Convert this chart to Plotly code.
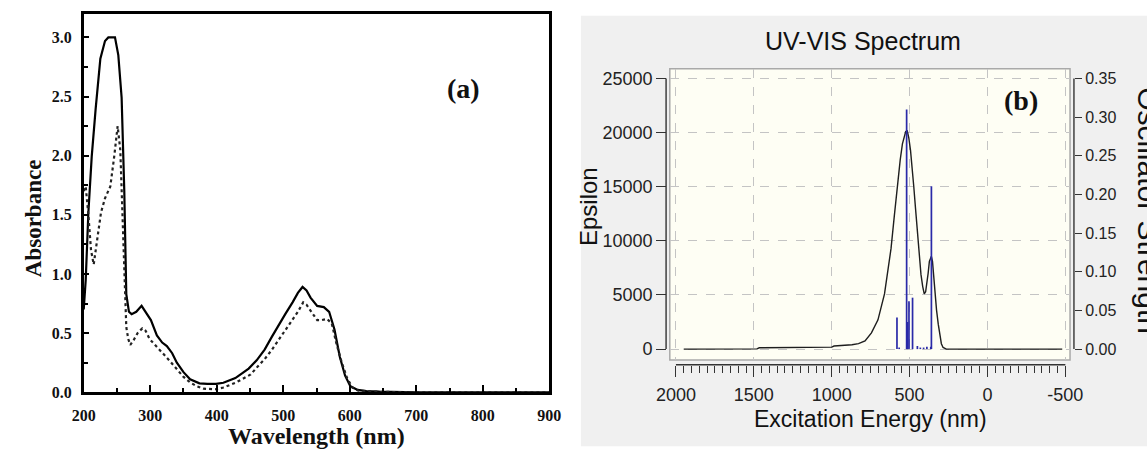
import plotly.graph_objects as go

W, H = 1147, 464

# ---------------- Panel (a) data ----------------
wl_solid = [200, 203, 207, 212, 218, 225, 232, 237, 247, 252, 257, 261, 264, 268, 272, 279, 287, 293, 301,
            310, 318, 325, 333, 340, 350, 360, 374, 386, 399, 410, 420, 428, 438, 448, 460, 472, 483, 494,
            503, 514, 522, 529, 535, 541, 551, 561, 569, 577, 585, 593, 601, 612, 625, 645, 670, 700, 900]
abs_solid = [0.70, 0.95, 1.52, 1.99, 2.40, 2.82, 2.97, 3.0, 3.0, 2.85, 2.49, 1.70, 0.83, 0.68, 0.66, 0.68,
             0.73, 0.68, 0.61, 0.48, 0.42, 0.39, 0.33, 0.25, 0.17, 0.11, 0.075, 0.07, 0.07, 0.08, 0.10, 0.12,
             0.16, 0.20, 0.27, 0.36, 0.47, 0.58, 0.66, 0.76, 0.84, 0.89, 0.86, 0.80, 0.73, 0.72, 0.68, 0.53,
             0.30, 0.14, 0.05, 0.02, 0.01, 0.005, 0.002, 0.0, 0.0]

wl_dot = [200, 203, 207, 211, 215, 220, 226, 232, 240, 246, 251, 255, 258, 261, 264, 267, 270, 275, 281,
          288, 293, 299, 306, 315, 322, 330, 340, 350, 360, 370, 380, 390, 400, 410, 418, 428, 438, 451,
          462, 472, 483, 493, 503, 514, 522, 530, 535, 541, 551, 558, 566, 573, 580, 588, 596, 604, 612,
          625, 650, 700, 900]
abs_dot = [1.70, 1.74, 1.50, 1.20, 1.08, 1.27, 1.52, 1.64, 1.74, 2.00, 2.25, 2.05, 1.50, 0.90, 0.55, 0.45,
           0.40, 0.44, 0.50, 0.54, 0.52, 0.45, 0.41, 0.35, 0.31, 0.26, 0.19, 0.13, 0.083, 0.05, 0.03, 0.025,
           0.025, 0.04, 0.055, 0.08, 0.11, 0.15, 0.22, 0.28, 0.36, 0.44, 0.52, 0.61, 0.68, 0.76, 0.74, 0.69,
           0.61, 0.61, 0.62, 0.58, 0.41, 0.25, 0.12, 0.04, 0.015, 0.008, 0.003, 0.0, 0.0]

# ---------------- Panel (b) data ----------------
eps_nm = [1950, 1480, 1465, 1000, 985, 912, 870, 828, 786, 745, 703, 661, 640, 619, 598, 577, 560, 546,
          535, 525, 515, 505, 494, 483, 473, 462, 452, 440, 427, 416, 406, 397, 389, 381, 373, 366, 360,
          353, 347, 337, 327, 316, 306, 296, 285, 275, 264, -480]
eps_val = [0, 20, 120, 180, 280, 330, 400, 500, 750, 1500, 2700, 5100, 7000, 9300, 12300, 15300, 17500,
           18950, 19700, 20100, 20150, 19500, 18350, 16800, 15000, 13000, 11100, 9000, 6900, 5800, 5100,
           5300, 6000, 7000, 8100, 8500, 8570, 8100, 6900, 5200, 3600, 2300, 1200, 500, 150, 40, 0, 0]

bar_nm = [581, 567, 519, 516, 513, 504, 481, 450, 431, 410, 389, 364, 360]
bar_f = [0.041, 0.002, 0.31, 0.034, 0.035, 0.062, 0.0665, 0.004, 0.002, 0.002, 0.003, 0.003, 0.2105]

a_xticks = [200, 300, 400, 500, 600, 700, 800, 900]
a_yticks = [0.0, 0.5, 1.0, 1.5, 2.0, 2.5, 3.0]
b_xticks = [2000, 1500, 1000, 500, 0, -500]
b_xlabels = ["2000", "1500", "1000", "500", "0", "-500"]
b_yticks = [0, 5000, 10000, 15000, 20000, 25000]
b_ylabels = ["0", "5000", "10000", "15000", "20000", "25000"]
b_y2ticks = [0.0, 0.05, 0.10, 0.15, 0.20, 0.25, 0.30, 0.35]
b_y2labels = ["0.00", "0.05", "0.10", "0.15", "0.20", "0.25", "0.30", "0.35"]

SERIF = "Liberation Serif, Times New Roman, serif"
SANS = "Liberation Sans, Arial, sans-serif"

def px_x(p):
    return p / W

def px_y(p):
    return 1 - p / H

fig = go.Figure()

fig.add_trace(go.Scatter(x=wl_solid, y=abs_solid, mode="lines", xaxis="x", yaxis="y",
                         line=dict(color="black", width=2.2), showlegend=False))
fig.add_trace(go.Scatter(x=wl_dot, y=abs_dot, mode="lines", xaxis="x", yaxis="y",
                         line=dict(color="#222222", width=2.2, dash="dot"), showlegend=False))

# stick spectrum
sx, sy = [], []
for n, f in zip(bar_nm, bar_f):
    sx += [n, n, None]
    sy += [0, f, None]
fig.add_trace(go.Scatter(x=sx, y=sy, mode="lines", xaxis="x2", yaxis="y3",
                         line=dict(color="#2a2aa8", width=1.7), showlegend=False))
fig.add_trace(go.Scatter(x=eps_nm, y=eps_val, mode="lines", xaxis="x2", yaxis="y2",
                         line=dict(color="#1e1e1e", width=1.4), showlegend=False))

# geometry (pixels)
a_l, a_r, a_t, a_b = 71.4, 548.2, 14.0, 400.0
b_l, b_r, b_t, b_b = 671.6, 1081.5, 70.0, 367.0
b_xaxis_y = 372.0
b_yleft_x = 667.8
b_yright_x = 1085.5

b_x_px_per_nm = (1076.7 - 677.9) / 2500.0
b_x0 = 2000 + (677.9 - b_l) / b_x_px_per_nm
b_x1 = -500 - (b_r - 1076.7) / b_x_px_per_nm
eps_per_px = 25000 / (356.0 - 80.0)
b_y0 = -(b_b - 356.0) * eps_per_px
b_y1 = 25000 + (80.0 - b_t) * eps_per_px
f_scale = 0.35 / 25000

fig.update_layout(
    width=W, height=H, autosize=False,
    margin=dict(l=0, r=0, t=0, b=0),
    paper_bgcolor="white", plot_bgcolor="rgba(0,0,0,0)",
    xaxis=dict(domain=[px_x(a_l), px_x(a_r)], range=[200, 900], anchor="y",
               tickmode="array", tickvals=a_xticks, ticks="inside", ticklen=7, tickwidth=2,
               tickcolor="black", showline=True, linewidth=2.5, linecolor="black", mirror=True,
               showgrid=False, zeroline=False, ticklabelstandoff=7,
               tickfont=dict(family=SERIF, size=16, color="#111", weight="bold"),
               minor=dict(ticks="inside", dtick=50, ticklen=4, tickwidth=2, tickcolor="black")),
    yaxis=dict(domain=[px_y(a_b), px_y(a_t)], range=[0, 3.2], anchor="x",
               tickmode="array", tickvals=a_yticks, ticktext=[f"{v:.1f}" for v in a_yticks],
               ticks="inside", ticklen=6, tickwidth=2, tickcolor="black",
               showline=True, linewidth=2.5, linecolor="black", mirror=True,
               showgrid=False, zeroline=False, ticklabelstandoff=6,
               tickfont=dict(family=SERIF, size=16, color="#111", weight="bold"),
               minor=dict(ticks="inside", dtick=0.25, ticklen=5, tickwidth=2, tickcolor="black")),
    xaxis2=dict(domain=[px_x(b_l), px_x(b_r)], range=[b_x0, b_x1], anchor="free",
                position=px_y(b_xaxis_y),
                tickmode="array", tickvals=b_xticks, ticktext=b_xlabels,
                ticks="outside", ticklen=11, tickwidth=1.3,
                tickcolor="#333", showline=False, showgrid=True, gridcolor="#c4c4c4",
                griddash="dash", gridwidth=1, zeroline=False, ticklabelstandoff=3,
                tickfont=dict(family=SANS, size=18, color="#222"),
                minor=dict(ticks="outside", dtick=50, ticklen=7, tickwidth=1.1, tickcolor="#333",
                           showgrid=False)),
    yaxis2=dict(domain=[px_y(b_b), px_y(b_t)], range=[b_y0, b_y1], anchor="free",
                position=px_x(b_yleft_x), side="left",
                tickmode="array", tickvals=b_yticks, ticktext=b_ylabels,
                ticks="outside", ticklen=10, tickwidth=1.3,
                tickcolor="#333", showline=False, showgrid=True, gridcolor="#c4c4c4",
                griddash="dash", gridwidth=1, zeroline=False,
                tickfont=dict(family=SANS, size=18, color="#222")),
    yaxis3=dict(domain=[px_y(b_b), px_y(b_t)], range=[b_y0 * f_scale, b_y1 * f_scale],
                anchor="free", position=px_x(b_yright_x), side="right", overlaying="y2",
                tickmode="array", tickvals=b_y2ticks, ticktext=b_y2labels,
                ticks="outside", ticklen=7, tickwidth=1.3, tickcolor="#333",
                showline=False, showgrid=False, zeroline=False,
                tickfont=dict(family=SANS, size=16, color="#222")),
)

shapes = [
    dict(type="rect", xref="paper", yref="paper", x0=px_x(580.6), x1=1.02,
         y0=px_y(455), y1=px_y(16), fillcolor="#f0f0f0", line=dict(width=0), layer="below"),
    dict(type="rect", xref="x2 domain", yref="y2 domain", x0=0, x1=1, y0=0, y1=1,
         fillcolor="#fefef4", line=dict(color="#a9a9a9", width=1.5), layer="below"),
    dict(type="line", xref="paper", yref="y2", x0=px_x(b_yleft_x), x1=px_x(b_yleft_x),
         y0=b_yticks[0], y1=b_yticks[-1], line=dict(color="#333", width=1.4)),
    dict(type="line", xref="paper", yref="y3", x0=px_x(b_yright_x), x1=px_x(b_yright_x),
         y0=b_y2ticks[0], y1=b_y2ticks[-1], line=dict(color="#333", width=1.4)),
    dict(type="line", xref="x2", yref="paper", x0=b_xticks[0], x1=b_xticks[-1],
         y0=px_y(b_xaxis_y), y1=px_y(b_xaxis_y), line=dict(color="#333", width=1.4)),
]
fig.update_layout(shapes=shapes)

ann = [
    dict(text="<b>Absorbance</b>", x=px_x(20), y=px_y(223), textangle=-90,
         font=dict(family=SERIF, size=23, color="#111")),
    dict(text="<b>Wavelength (nm)</b>", x=px_x(310), y=px_y(445),
         font=dict(family=SERIF, size=24, color="#111")),
    dict(text="<b>(a)</b>", x=px_x(460.7), y=px_y(90),
         font=dict(family=SERIF, size=28, color="#111")),
    dict(text="<b>(b)</b>", x=px_x(1031), y=px_y(102),
         font=dict(family=SERIF, size=28, color="#111")),
    dict(text="UV-VIS Spectrum", x=px_x(869), y=px_y(42),
         font=dict(family=SANS, size=25, color="#111")),
    dict(text="Excitation Energy (nm)", x=px_x(877), y=px_y(427),
         font=dict(family=SANS, size=23, color="#111")),
    dict(text="Epsilon", x=px_x(589), y=px_y(211), textangle=-90,
         font=dict(family=SANS, size=24, color="#111")),
    dict(text="Oscillator Strength", x=px_x(1162), y=px_y(215), textangle=90,
         font=dict(family=SANS, size=30, color="#111")),
]
for a in ann:
    a.update(xref="paper", yref="paper", showarrow=False, xanchor="center", yanchor="middle")
fig.update_layout(annotations=ann)

fig.write_html("out.html")
